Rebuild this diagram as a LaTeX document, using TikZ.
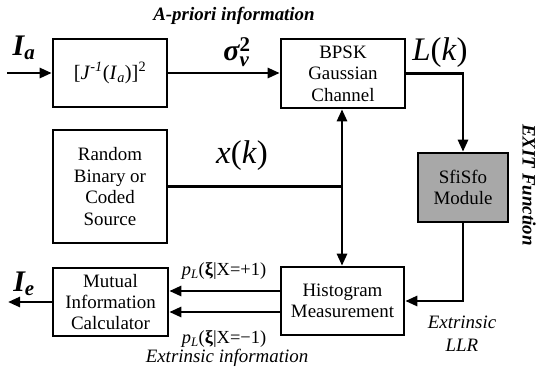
\documentclass[tikz,border=0pt]{standalone}
\usepackage{amsmath}
\usepackage{fontspec}
\setmainfont{Liberation Serif}
\usetikzlibrary{arrows.meta,calc}
\begin{document}
\begin{tikzpicture}[x=1bp,y=-1bp,
  box/.style={draw, line width=2.6bp, inner sep=0pt, align=center,
    font=\fontsize{19}{21.5}\selectfont},
  conn/.style={line width=2.6bp},
  arr/.style={conn, -{Triangle[length=12bp,width=10bp]}},
  biglab/.style={font=\fontsize{30}{32}\selectfont},
  itlab/.style={font=\fontsize{19}{23}\selectfont\itshape, align=center}
]
\useasboundingbox (0,0) rectangle (536,366);
% boxes
\node[box, minimum width=114bp, minimum height=68bp, font=\fontsize{20.5}{22}\selectfont] (J) at (110,73)
  {[\textit{J}$^{\text{\itshape -1}}$(\textit{I}$_{\text{\itshape a}}$)]$^{\text{2}}$};
\node[box, minimum width=124bp, minimum height=69bp] (ch) at (343,73.5)
  {BPSK\\Gaussian\\Channel};
\node[box, minimum width=114bp, minimum height=113bp] (src) at (110,186.5)
  {Random\\Binary or\\Coded\\Source};
\node[box, minimum width=90bp, minimum height=69bp,
  fill={rgb,255:red,168;green,168;blue,168}] (sf) at (463,187.5)
  {SfiSfo\\Module};
\node[box, minimum width=123bp, minimum height=68bp] (hist) at (342.5,301)
  {Histogram\\Measurement};
\node[box, minimum width=115bp, minimum height=68bp] (mi) at (110.5,302)
  {Mutual\\Information\\Calculator};
% coordinates
\coordinate (iain) at (7,73);
\coordinate (ieout) at (8,302);
\coordinate (j) at (342,186.5);
% connectors
\draw[arr] (iain) -- (J.west);
\draw[arr] (J.east) -- (J.east -| ch.west);
\draw[arr] (ch.east) -| (sf.north);
\draw[arr] (sf.south) |- (hist.east);
\draw[conn] (src.east |- j) -- (j);
\draw[arr] (j) -- (j |- ch.south);
\draw[arr] (j) -- (j |- hist.north);
\draw[arr] ([yshift=10bp]hist.west) -- ([yshift=10bp]hist.west -| mi.east);
\draw[arr] ([yshift=-11bp]hist.west) -- ([yshift=-11bp]hist.west -| mi.east);
\draw[arr] (mi.west) -- (ieout);
% labels
\node[itlab, font=\fontsize{19}{23}\selectfont\bfseries\itshape] (apri) at (234,16) {A-priori information};
\node[biglab] (ia) at (24,48) {\bfseries\itshape I$_{\text{\bfseries\itshape a}}$};
\node[biglab, inner sep=0pt] (sig) at (237,52) {$\text{\bfseries\itshape σ}^{\text{\bfseries 2}}_{\text{\bfseries\itshape ν}}$};
\node[biglab, font=\fontsize{33}{34}\selectfont] (lk) at (440,53) {\textit{L}(\textit{k})};
\node[biglab, font=\fontsize{33}{34}\selectfont] (xk) at (242,156) {\textit{x}(\textit{k})};
\node[font=\fontsize{18.5}{20}\selectfont] (pp) at (224,271) {\textit{p}$_{\text{\itshape L}}$(\textbf{ξ}|X=+1)};
\node[font=\fontsize{18.5}{20}\selectfont] (pm) at (224,339) {\textit{p}$_{\text{\itshape L}}$(\textbf{ξ}|X=−1)};
\node[itlab] (ext) at (227,358) {Extrinsic information};
\node[itlab] (llr) at (462,334) {Extrinsic\\LLR};
\node[biglab] (ie) at (24,284) {\bfseries\itshape I$_{\text{\bfseries\itshape e}}$};
\node[itlab, font=\fontsize{19}{23}\selectfont\bfseries\itshape, rotate=-90] (exit) at (529,185) {EXIT Function};
\end{tikzpicture}
\end{document}
